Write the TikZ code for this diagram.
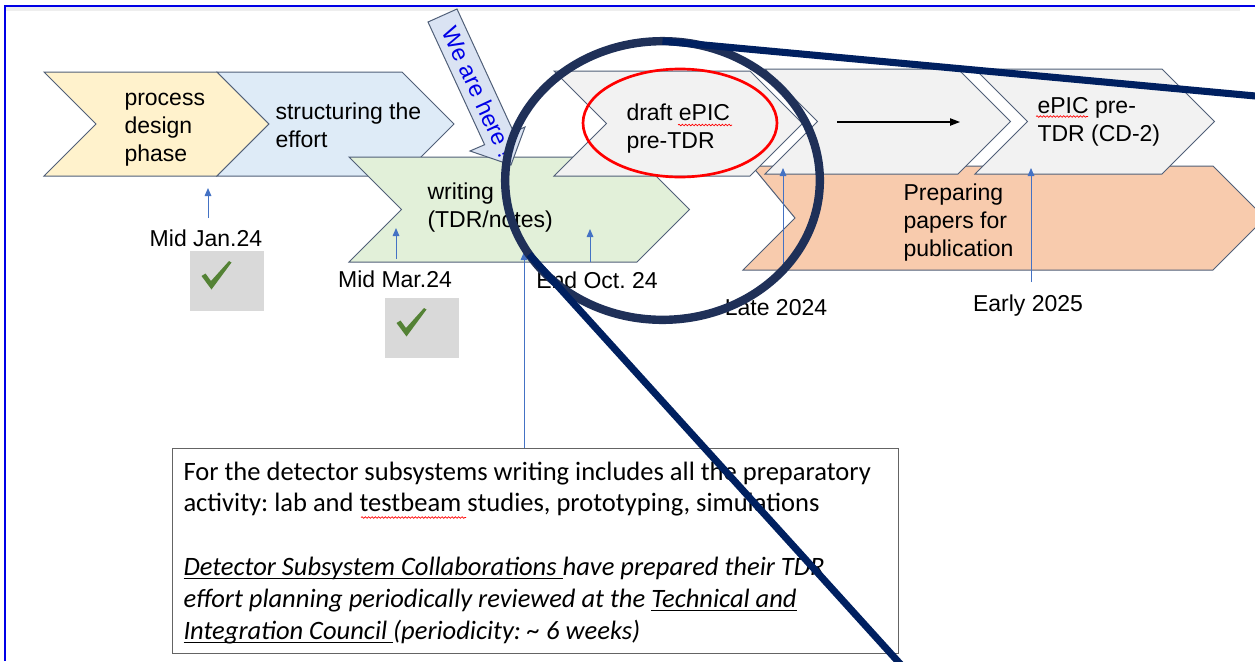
\documentclass[tikz,border=0pt]{standalone}
\usepackage{fontspec}
\setmainfont{Liberation Sans}
\newfontfamily\calibrifont{Carlito}
\usetikzlibrary{shapes.geometric,arrows.meta,decorations.pathmorphing}
\frenchspacing

\definecolor{outline}{RGB}{80,95,120}
\definecolor{phaseyellow}{RGB}{255,242,204}
\definecolor{phaseblue}{RGB}{222,235,247}
\definecolor{phasegreen}{RGB}{226,240,217}
\definecolor{phasegray}{RGB}{242,242,242}
\definecolor{phaseorange}{RGB}{248,203,173}
\definecolor{markerblue}{RGB}{68,114,196}
\definecolor{ringnavy}{RGB}{31,48,88}
\definecolor{linenavy}{RGB}{0,32,96}
\definecolor{herefill}{RGB}{218,227,243}
\definecolor{heretext}{RGB}{0,0,230}
\definecolor{tickgray}{RGB}{217,217,217}
\definecolor{tickgreen}{RGB}{84,130,53}
\definecolor{frameblue}{RGB}{0,0,230}
\definecolor{bandgray}{RGB}{238,238,238}
\definecolor{boxline}{RGB}{100,100,100}

\tikzset{every picture/.style={line width=0.75pt}}
\tikzset{
  chev/.style={draw=outline, line width=0.75pt},
  marker/.style={draw=markerblue, line width=0.75pt, -{Triangle[length=6pt,width=5pt]}},
  phasetext/.style={anchor=base west, inner sep=0pt, align=left, font=\fontsize{17.25}{21}\selectfont},
  datetext/.style={anchor=base, inner sep=0pt, font=\fontsize{17.25}{21}\selectfont},
  tickbox/.style={fill=tickgray, anchor=north west, minimum width=56pt, minimum height=45.5pt, inner sep=0pt},
  squiggle/.style={draw=red, line width=0.5pt, decorate, decoration={snake, amplitude=0.6pt, segment length=2.5pt}},
}

% chevron: fill, x left, x right, y top, y bottom, point depth
\newcommand{\chevron}[6]{%
  \filldraw[chev, fill=#1] (#2,#4) -- (#3,#4) -- ({#3+#6},{(#4+#5)/2}) -- (#3,#5) -- (#2,#5) -- ({#2+#6},{(#4+#5)/2}) -- cycle;}
% green tick inside a tick box
\newcommand{\tickmark}[1]{%
  \fill[tickgreen, shift={(#1.north west)}] (12.5,26) -- (16.5,23.5) -- (22,31) -- (40,11) -- (42.5,12.5) -- (22.5,39.5) -- cycle;}
% underline at a fixed depth
\newcommand{\undertext}[1]{\setbox0=\hbox{#1}\rlap{\rule[-3pt]{\wd0}{0.9pt}}\box0}

\begin{document}
\begin{tikzpicture}[x=0.75pt,y=0.75pt,yscale=-1,xscale=1]
\useasboundingbox (0,0) rectangle (1255,661);

%Frame
\fill[bandgray] (6,7) rectangle (1240,10.5);
\draw[frameblue, line width=1.5pt] (5,661) -- (5,6) -- (1255,6);

%Shape: chevrons
\chevron{phaseyellow}{44}{217}{72}{176}{52}
\chevron{phaseblue}{217}{402}{72}{176}{52}
\chevron{phasegreen}{349}{637}{157}{262}{52.5}
\filldraw[chev, fill=phaseorange] (752,166) -- (1213,166) -- (1265,218) -- (1213,270) -- (743,270) -- (795,218) -- cycle;
\chevron{phasegray}{554}{750}{71}{176}{52.5}
\chevron{phasegray}{765}{958}{69}{174}{52.5}
\chevron{phasegray}{975}{1162}{69}{174}{52.5}

% Text Node (anchored at the last line)
\node[phasetext] (process) at (124,161) {process\\design\\phase};
% Text Node
\node[phasetext] (structuring) at (275,147.5) {structuring the\\effort};
% Text Node
\node[phasetext] (writing) at (427,227) {writing\\(TDR/notes)};
% Text Node
\node[phasetext] (draft) at (626,148.3) {draft ePIC\\pre-TDR};
% Text Node
\node[phasetext] (cdtwo) at (1037,141) {ePIC pre-\\TDR (CD-2)};
% Text Node
\node[phasetext] (papers) at (903,256.7) {Preparing\\papers for\\publication};

%Spelling marks
\draw[squiggle] (678,125) -- (732,125);
\draw[squiggle] (1036,116.5) -- (1088,116.5);

%Shape: Ellipse
\node[draw=red, line width=2pt, ellipse, minimum width=145.5pt, minimum height=81pt, inner sep=0pt, outer sep=0pt] (draftring) at (680,123) {};

%Straight Lines
\coordinate (flowstart) at (837,122);
\coordinate (flowend) at (960,122);
\draw[-{Triangle[length=7.5pt,width=5.5pt]}, line width=0.9pt] (flowstart) -- (flowend);

% Text Node
\node[datetext] (jan) at (206,246.7) {Mid Jan.24};
% Text Node
\node[datetext] (mar) at (395,287.3) {Mid Mar.24};
% Text Node
\node[datetext] (oct) at (597,288.3) {End Oct. 24};
% Text Node
\node[datetext] (late) at (776,315) {Late 2024};
% Text Node
\node[datetext] (early) at (1028,311) {Early 2025};

%Straight Lines
\coordinate (janfoot) at (208,218);  \coordinate (jantip) at (208,188);
\coordinate (marfoot) at (396,259);  \coordinate (martip) at (396,228);
\coordinate (octfoot) at (590,262);  \coordinate (octtip) at (590,229);
\coordinate (latefoot) at (783,270); \coordinate (latetip) at (783,168);
\coordinate (earlyfoot) at (1031,282); \coordinate (earlytip) at (1031,168);
\draw[marker] (janfoot) -- (jantip);
\draw[marker] (marfoot) -- (martip);
\draw[marker] (octfoot) -- (octtip);
\draw[marker] (latefoot) -- (latetip);
\draw[marker] (earlyfoot) -- (earlytip);

%Tick boxes
\node[tickbox] (jantick) at (189,250) {};
\node[tickbox] (martick) at (384,297) {};
\tickmark{jantick}
\tickmark{martick}

%Note box
\node[draw=boxline, line width=1pt, anchor=north west, minimum width=544.5pt, minimum height=153.75pt, inner sep=0pt] (notebox) at (172,448) {};
% Text Node (anchored at the last line)
\node[anchor=base west, inner sep=0pt, align=left, font=\calibrifont\fontsize{19.9}{23.85}\selectfont] (notetext) at (183,639)
  {For the detector subsystems writing includes all the preparatory\\
   activity: lab and testbeam studies, prototyping, simulations\\[23.85pt]
   \itshape\undertext{Detector Subsystem Collaborations }have prepared their TDR\\
   \itshape effort planning periodically reviewed at the \undertext{Technical and}\\
   \itshape\undertext{Integration Council }(periodicity: \textasciitilde{} 6 weeks)};
\draw[squiggle] (361,517.5) -- (466,517.5);
\coordinate (notetip) at (524,252);
\draw[marker, line width=0.6pt] (notebox.north -| notetip) -- (notetip);

%Shape: We are here arrow
\filldraw[draw=outline, fill=herefill] (428,22) -- (457,9) -- (513.6,132) -- (525,127) -- (511,165) -- (470,151) -- (484.6,144.7) -- cycle;
% Text Node
\node[rotate=-65.2, text=heretext, inner sep=0pt, font=\fontsize{17.5}{21}\selectfont] (herelabel) at (478.5,92) {We are here !};

%Shape: zoom ring and callout lines
\node[draw=ringnavy, line width=6.3pt, ellipse, minimum width=236pt, minimum height=209pt, inner sep=0pt, outer sep=0pt] (zoomring) at (662.5,180.5) {};
\coordinate (calloutright) at (1262,96.6);
\coordinate (calloutbottom) at (903,667);
\draw[linenavy, line width=5.3pt] (zoomring.north) -- (calloutright);
\draw[linenavy, line width=5.3pt] (zoomring.209) -- (calloutbottom);

\end{tikzpicture}
\end{document}
